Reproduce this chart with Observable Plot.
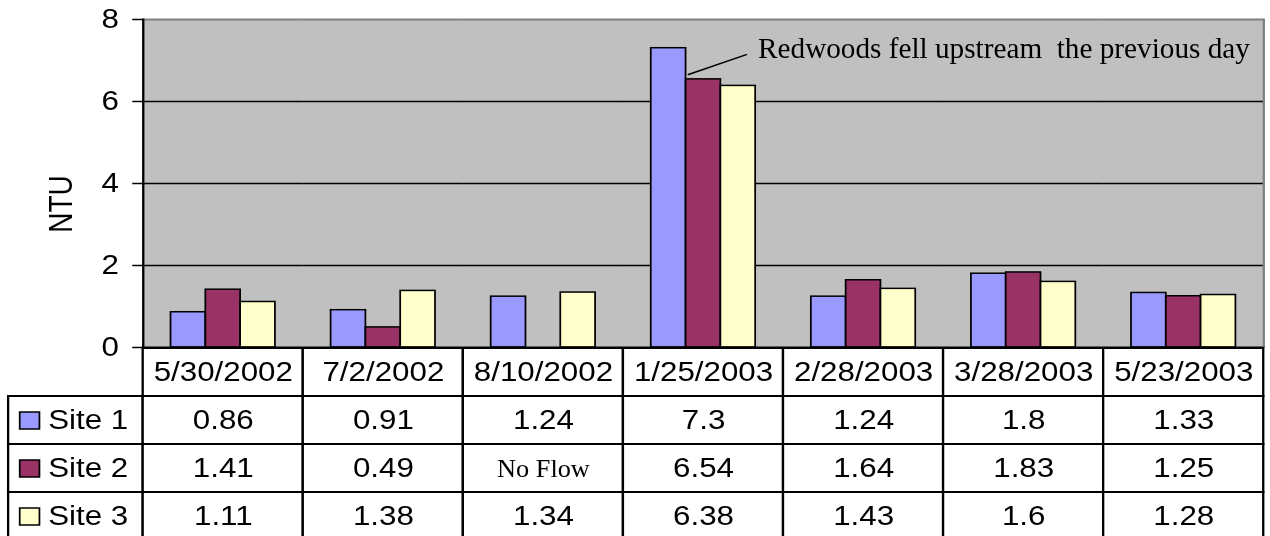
<!DOCTYPE html>
<html>
<head>
<meta charset="utf-8">
<script src="https://cdn.jsdelivr.net/npm/d3@7"></script>
<script src="https://cdn.jsdelivr.net/npm/@observablehq/plot@0.6"></script>
<style>
  html, body { margin: 0; padding: 0; background: white; overflow: hidden; }
  #wrap { width: 1095px; transform: scaleX(1.16); transform-origin: 0 0; }
  #table { display: flex; width: 1095px; }
  #table svg, #chart svg { flex: none; max-width: none; }
</style>
</head>
<body>
<div id="wrap">
  <div id="chart"></div>
  <div id="table"></div>
</div>
<script>
// ---- data ----
const dates = ["5/30/2002", "7/2/2002", "8/10/2002", "1/25/2003", "2/28/2003", "3/28/2003", "5/23/2003"];
const sites = ["Site 1", "Site 2", "Site 3"];
const site1 = [0.86, 0.91, 1.24, 7.3, 1.24, 1.8, 1.33];
const site2 = [1.41, 0.49, null, 6.54, 1.64, 1.83, 1.25];
const site3 = [1.11, 1.38, 1.34, 6.38, 1.43, 1.6, 1.28];
const missingLabel = "No Flow";
const yTicks = [0, 2, 4, 6, 8];
const yLabel = [{date: "5/30/2002", text: "NTU", y: 3.5}];
const siteColors = ["#9999ff", "#993366", "#ffffcc"];
const annotation = [{date: "1/25/2003", from: "Site 2", to: "Site 3", y1: 6.66, y2: 6.95, ty: 7.3,
  label: "Redwoods fell upstream\u00a0 the previous day"}];

const seriesValues = [site1, site2, site3];
const records = [];
sites.forEach((s, i) => dates.forEach((d, j) => records.push({date: d, site: s, value: seriesValues[i][j]})));
const bars = records.filter(r => r.value != null);

const sans = "'Liberation Sans', Arial, sans-serif";
const serif = "'Liberation Serif', 'Times New Roman', serif";

const chart = Plot.plot({
  width: 1095, height: 348,
  marginTop: 19, marginBottom: 1, marginLeft: 123, marginRight: 6,
  style: {fontFamily: sans, fontSize: "27px", background: "white", color: "black", overflow: "visible"},
  fx: {domain: dates, padding: 0, axis: null, label: null},
  x: {domain: sites, paddingInner: 0, paddingOuter: 0.785, axis: null},
  y: {domain: [0, 8], axis: null},
  color: {domain: sites, range: siteColors},
  marks: [
    Plot.frame({facet: "super", fill: "#c0c0c0"}),
    Plot.ruleY([2, 4, 6], {stroke: "black", strokeWidth: 1.5}),
    Plot.ruleY([8], {stroke: "#808080", strokeWidth: 2}),
    Plot.frame({facet: "super", anchor: "right", stroke: "#808080", strokeWidth: 2}),
    Plot.barY(bars, {fx: "date", x: "site", y: "value", fill: "site", stroke: "black", strokeWidth: 1.5}),
    Plot.ruleY([0], {stroke: "black", strokeWidth: 2}),
    Plot.frame({facet: "super", anchor: "left", stroke: "black", strokeWidth: 2}),
    Plot.axisY({ticks: yTicks, tickSize: 9, tickPadding: 12, strokeWidth: 1.5, fontSize: 27, label: null}),
    Plot.text(yLabel, {fx: "date", y: "y", text: "text", frameAnchor: "left", rotate: -90, dx: -70,
      textAnchor: "middle", fontSize: 28, lineAnchor: "middle"}),
    Plot.arrow(annotation, {fx: "date", x1: "from", x2: "to", y1: "y1", y2: "y2", dx: -13,
      insetEnd: -21.4, headLength: 0, stroke: "black", strokeWidth: 1.5}),
    Plot.text(annotation, {fx: "date", x: "from", y: "ty", text: "label", textAnchor: "start",
      dx: 47, fontFamily: serif, fontSize: 30, lineAnchor: "middle"})
  ]
});
document.getElementById("chart").appendChild(chart);

const rowDomain = ["header", ...sites];
const tableH = 192;

const labelPlot = Plot.plot({
  width: 123, height: tableH, marginTop: 0, marginBottom: 0, marginLeft: 7, marginRight: 0,
  style: {fontFamily: sans, fontSize: "27px", background: "none", color: "black", overflow: "visible"},
  y: {domain: rowDomain, padding: 0, axis: null},
  color: {domain: sites, range: siteColors},
  marks: [
    Plot.cell(sites, {y: d => d, fill: "white", stroke: "black", strokeWidth: 2}),
    Plot.dot(sites, {y: d => d, frameAnchor: "left", dx: 18, symbol: "square", r: 9.6,
      fill: d => d, stroke: "black", strokeWidth: 1.5}),
    Plot.text(sites, {y: d => d, text: d => d, frameAnchor: "left", dx: 34, textAnchor: "start",
      fontSize: 27})
  ]
});

const valuePlot = Plot.plot({
  width: 972, height: tableH, marginTop: 0, marginBottom: 0, marginLeft: 0, marginRight: 6,
  style: {fontFamily: sans, fontSize: "27px", background: "white", color: "black", overflow: "visible"},
  x: {domain: dates, padding: 0, axis: null},
  y: {domain: rowDomain, padding: 0, axis: null},
  marks: [
    Plot.cell(dates, {x: d => d, y: () => "header", fill: "white", stroke: "black", strokeWidth: 2}),
    Plot.text(dates, {x: d => d, y: () => "header", text: d => d, fontSize: 27}),
    Plot.cell(records, {x: "date", y: "site", fill: "white", stroke: "black", strokeWidth: 2}),
    Plot.text(records.filter(r => r.value != null), {x: "date", y: "site", text: r => String(r.value), fontSize: 27}),
    Plot.text(records.filter(r => r.value == null), {x: "date", y: "site", text: () => missingLabel,
      fontFamily: serif, fontSize: 25})
  ]
});
const tbl = document.getElementById("table");
tbl.appendChild(labelPlot);
tbl.appendChild(valuePlot);

// serif text in the original is set narrow: fit it to its measured width
function fitSerif(svg, len) {
  svg.querySelectorAll('g[font-family*="Liberation Serif"] text').forEach(t => {
    t.setAttribute("textLength", len);
    t.setAttribute("lengthAdjust", "spacingAndGlyphs");
  });
}
fitSerif(chart, 424);
fitSerif(valuePlot, 80);
</script>
</body>
</html>
